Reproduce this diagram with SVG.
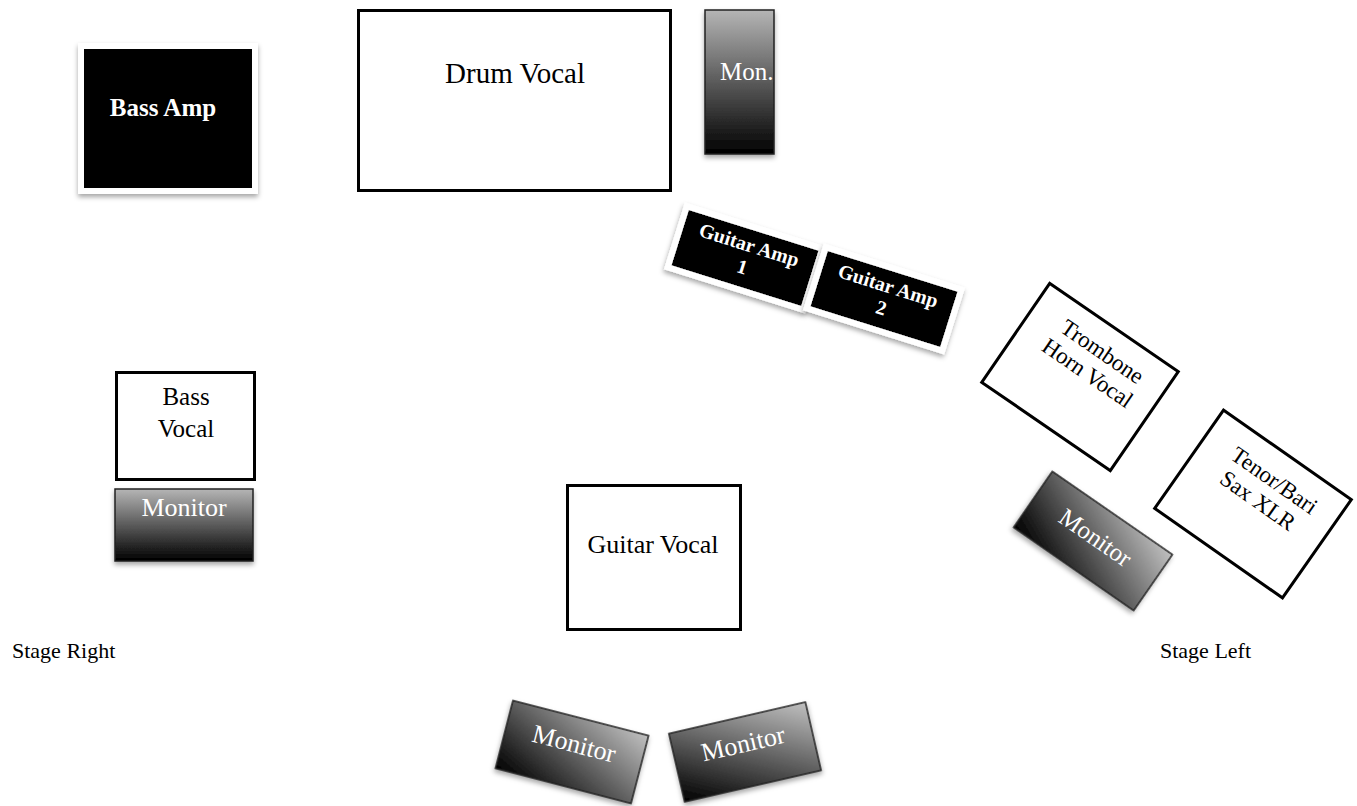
<svg xmlns="http://www.w3.org/2000/svg" width="1357" height="806" viewBox="0 0 1357 806">
<defs>
<linearGradient id="mon" x1="0" y1="0" x2="0" y2="1">
<stop offset="0" stop-color="#b5b5b5"/>
<stop offset="1" stop-color="#000"/>
</linearGradient>
<linearGradient id="monD" x1="1" y1="0" x2="0" y2="1">
<stop offset="0" stop-color="#c0c0c0"/>
<stop offset="1" stop-color="#000"/>
</linearGradient>
<filter id="sh" x="-20%" y="-20%" width="140%" height="150%">
<feDropShadow dx="0" dy="3" stdDeviation="2.5" flood-color="#000" flood-opacity="0.35"/>
</filter>
</defs>
<style>
text{font-family:"Liberation Serif","DejaVu Serif",serif;text-anchor:middle}
.box{fill:#fff;stroke:#000;stroke-width:3}
.amp{fill:#000;stroke:#fff;stroke-width:6;filter:url(#sh)}
.mon{fill:url(#mon);stroke:#222;stroke-width:1.5;filter:url(#sh)}
.mond{fill:url(#monD);stroke:#222;stroke-width:1.5;filter:url(#sh)}
.wt{fill:#fff}
.bt{fill:#000}
.b{font-weight:bold}
</style>
<rect width="1357" height="806" fill="#fff"/>
<g id="connectors"/>
<g id="bass-amp">
<rect class="amp" x="81" y="46" width="174" height="145"/>
<text class="wt b" x="163" y="116" font-size="25">Bass Amp</text>
</g>
<g id="drum-vocal">
<rect class="box" x="358.5" y="10.5" width="312" height="180"/>
<text class="bt" x="515" y="83" font-size="29">Drum Vocal</text>
</g>
<g id="mon-top">
<rect class="mon" x="705" y="10" width="69" height="144"/>
<text class="wt" x="720" y="80" font-size="25" style="text-anchor:start">Mon.</text>
</g>
<g id="guitar-amp-1" transform="translate(745,258) rotate(17.4)">
<rect class="amp" x="-71" y="-32" width="142" height="64"/>
<text class="wt b" x="0" y="-7" font-size="20">Guitar Amp</text>
<text class="wt b" x="0" y="16" font-size="20">1</text>
</g>
<g id="guitar-amp-2" transform="translate(884,299) rotate(17.4)">
<rect class="amp" x="-71" y="-32" width="142" height="64"/>
<text class="wt b" x="0" y="-7" font-size="20">Guitar Amp</text>
<text class="wt b" x="0" y="16" font-size="20">2</text>
</g>
<g id="trombone" transform="translate(1080,377) rotate(34.5)">
<rect class="box" x="-78" y="-60" width="156" height="120"/>
<text class="bt" x="4" y="-26" font-size="23">Trombone</text>
<text class="bt" x="4" y="0" font-size="23">Horn Vocal</text>
</g>
<g id="tenor-sax" transform="translate(1253,504) rotate(35)">
<rect class="box" x="-78" y="-60" width="156" height="120"/>
<text class="bt" x="4" y="-24" font-size="23">Tenor/Bari</text>
<text class="bt" x="2" y="2" font-size="23">Sax XLR</text>
</g>
<g id="monitor-right" transform="translate(1093,541) rotate(34.7)">
<rect class="mond" x="-73" y="-34" width="146" height="68"/>
<text class="wt" x="0" y="4" font-size="25">Monitor</text>
</g>
<g id="bass-vocal">
<rect class="box" x="116.5" y="372.5" width="138" height="107"/>
<text class="bt" x="186" y="405" font-size="25">Bass</text>
<text class="bt" x="186" y="437" font-size="25">Vocal</text>
</g>
<g id="monitor-left">
<rect class="mon" x="115" y="489" width="138" height="72"/>
<text class="wt" x="184" y="516" font-size="26">Monitor</text>
</g>
<g id="guitar-vocal">
<rect class="box" x="567.5" y="485.5" width="173" height="144"/>
<text class="bt" x="653" y="553" font-size="26">Guitar Vocal</text>
</g>
<g id="stage-right">
<text class="bt" x="12" y="658" font-size="22" style="text-anchor:start">Stage Right</text>
</g>
<g id="stage-left">
<text class="bt" x="1160" y="658" font-size="22" style="text-anchor:start">Stage Left</text>
</g>
<g id="monitor-bottom-left" transform="translate(572,752) rotate(14.5)">
<rect class="mond" x="-70" y="-35" width="140" height="70"/>
<text class="wt" x="0" y="0" font-size="26">Monitor</text>
</g>
<g id="monitor-bottom-right" transform="translate(745,752) rotate(-13)">
<rect class="mond" x="-70" y="-35" width="140" height="70"/>
<text class="wt" x="0" y="0" font-size="26">Monitor</text>
</g>
</svg>
